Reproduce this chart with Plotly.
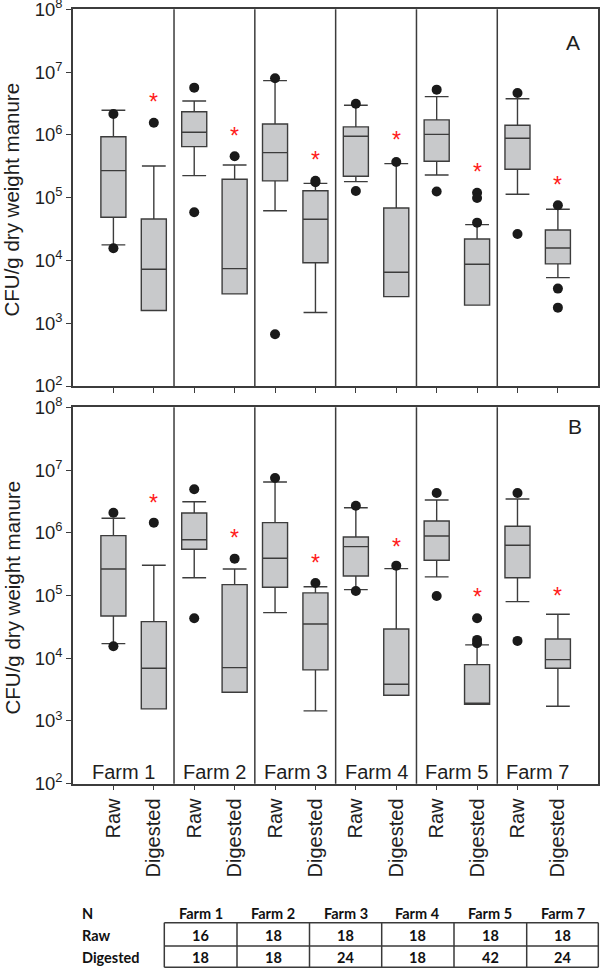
import math
import plotly.graph_objects as go

# ---------------- data ----------------
farms = ["Farm 1", "Farm 2", "Farm 3", "Farm 4", "Farm 5", "Farm 7"]
tick_labels = ["Raw", "Digested"] * 6
positions = list(range(1, 13))
farm_centers = [1.25, 3.5, 5.5, 7.5, 9.5, 11.5]
separators = [2.5, 4.5, 6.5, 8.5, 10.5]
digested_pos = [2, 4, 6, 8, 10, 12]
y_tickvals = [1e2, 1e3, 1e4, 1e5, 1e6, 1e7, 1e8]
y_ticktext = ["10<sup>2</sup>", "10<sup>3</sup>", "10<sup>4</sup>", "10<sup>5</sup>",
              "10<sup>6</sup>", "10<sup>7</sup>", "10<sup>8</sup>"]

# Panel A (order: F1 Raw, F1 Dig, F2 Raw, F2 Dig, ...)
a_q1 = [4.88e4, 1.59e3, 6.49e5, 2.93e3, 1.85e5, 9.2e3, 2.19e5, 2.65e3, 3.80e5, 1.94e3, 2.83e5, 8.8e3]
a_med = [2.69e5, 7.24e3, 1.10e6, 7.40e3, 5.21e5, 4.53e4, 9.5e5, 6.49e3, 1.02e6, 8.7e3, 8.83e5, 1.58e4]
a_q3 = [9.35e5, 4.58e4, 2.34e6, 1.96e5, 1.49e6, 1.29e5, 1.34e6, 6.86e4, 1.73e6, 2.2e4, 1.42e6, 3.06e4]
a_low = [1.77e4, 1.59e3, 2.24e5, 2.93e3, 6.2e4, 1.48e3, 1.8e5, 2.65e3, 2.3e5, 1.94e3, 1.13e5, 5.32e3]
a_high = [2.47e6, 3.2e5, 3.47e6, 3.32e5, 7.3e6, 1.69e5, 2.96e6, 3.48e5, 4.06e6, 3.72e4, 3.77e6, 6.53e4]
a_out = [[2.15e6, 1.56e4], [1.56e6], [5.65e6, 5.85e4], [4.56e5], [7.96e6, 668], [1.86e5, 1.76e5],
         [3.14e6, 1.28e5], [3.7e5], [5.25e6, 1.25e5], [1.2e5, 9.9e4, 4.0e4], [4.65e6, 2.64e4],
         [7.57e4, 3.56e3, 1.77e3]]
a_star = [4.2e6, 1.2e6, 4.97e5, 1.02e6, 3.24e5, 1.99e5]

# Panel B
b_q1 = [4.72e4, 1.56e3, 5.46e5, 2.87e3, 1.35e5, 6.52e3, 2.05e5, 2.57e3, 3.65e5, 1.85e3, 1.92e5, 6.93e3]
b_med = [2.65e5, 6.93e3, 7.76e5, 7.08e3, 3.93e5, 3.52e4, 6.01e5, 3.85e3, 8.89e5, 1.85e3, 6.32e5, 9.5e3]
b_q3 = [8.99e5, 3.83e4, 2.07e6, 1.49e5, 1.45e6, 1.10e5, 8.57e5, 2.93e4, 1.54e6, 7.91e3, 1.27e6, 2.03e4]
b_low = [1.71e4, 1.56e3, 1.92e5, 2.87e3, 5.33e4, 1.45e3, 1.24e5, 2.57e3, 1.98e5, 1.85e3, 7.98e4, 1.72e3]
b_high = [1.70e6, 3.03e5, 3.13e6, 2.65e5, 6.46e6, 1.38e5, 2.51e6, 2.68e5, 3.33e6, 1.63e4, 3.46e6, 5.02e4]
b_out = [[2.09e6, 1.55e4], [1.45e6], [4.93e6, 4.34e4], [3.87e5], [7.46e6], [1.58e5],
         [2.70e6, 1.18e5], [2.99e5], [4.31e6, 9.84e4], [4.34e4, 1.96e4, 1.73e4], [4.31e6, 1.89e4], []]
b_star = [3.76e6, 1.02e6, 4.16e5, 7.48e5, 1.18e5, 1.23e5]

# Sample-size table
table_rows = ["Raw", "Digested"]
n_raw = [16, 18, 18, 18, 18, 18]
n_digested = [18, 18, 24, 18, 42, 24]

# ---------------- styling ----------------
W, H = 600, 970
FONT = "Liberation Sans, Arial, sans-serif"
TFONT = "Lato, Open Sans, sans-serif"
LINE = "#3c3c3c"
BOXFILL = "#c8c9cb"
TXT = "#1e1e1e"


def px(x):
    return x / W


def py(y):
    return 1 - y / H


X_DOM = [px(73.0), px(598.3)]
A_DOM = [py(386.0), py(9.3)]
B_DOM = [py(783.7), py(407.3)]

fig = go.Figure()
annotations = []

panels = [
    ("x", "y", a_q1, a_med, a_q3, a_low, a_high, a_out, a_star),
    ("x2", "y2", b_q1, b_med, b_q3, b_low, b_high, b_out, b_star),
]
for xa, ya, q1, med, q3, lo, hi, outs, stars in panels:
    fig.add_trace(go.Box(
        x=positions, q1=q1, median=med, q3=q3, lowerfence=lo, upperfence=hi,
        xaxis=xa, yaxis=ya, width=0.62, whiskerwidth=0.95, boxpoints=False,
        fillcolor=BOXFILL, line=dict(color=LINE, width=1.4), showlegend=False,
        hoverinfo="skip",
    ))
    ox, oy = [], []
    for p, vals in zip(positions, outs):
        for v in vals:
            ox.append(p)
            oy.append(v)
    fig.add_trace(go.Scatter(
        x=ox, y=oy, mode="markers", xaxis=xa, yaxis=ya, showlegend=False,
        marker=dict(size=10, color="#1a1a1a", line=dict(width=0)), hoverinfo="skip",
    ))
    for p, s in zip(digested_pos, stars):
        annotations.append(dict(xref=xa, yref=ya, x=p, y=math.log10(s), text="*",
                                showarrow=False, xanchor="center", yanchor="middle",
                                yshift=-6, font=dict(size=23, color="#ff1a1a", family=FONT)))

axis_common = dict(showline=True, mirror=True, linecolor=LINE, linewidth=1.5,
                   showgrid=False, zeroline=False, ticks="outside", tickcolor=LINE,
                   automargin=False, ticklabeloverflow="allow")

fig.update_layout(
    width=W, height=H, margin=dict(l=0, r=0, t=0, b=0),
    paper_bgcolor="white", plot_bgcolor="white",
    font=dict(family=FONT, color=TXT),
    xaxis=dict(domain=X_DOM, anchor="y", range=[0, 13], tickvals=positions,
               showticklabels=False, ticklen=5, tickwidth=1.3, **axis_common),
    yaxis=dict(domain=A_DOM, anchor="x", type="log", range=[2, 8],
               tickvals=y_tickvals, ticktext=y_ticktext, ticklen=5, tickwidth=1.3,
               tickfont=dict(size=18.5, color=TXT), **axis_common),
    xaxis2=dict(domain=X_DOM, anchor="y2", range=[0, 13], tickvals=positions,
                ticktext=tick_labels, tickangle=-90, ticklen=5, tickwidth=1.3,
                tickfont=dict(size=20, color=TXT), **axis_common),
    yaxis2=dict(domain=B_DOM, anchor="x2", type="log", range=[2, 8],
                tickvals=y_tickvals, ticktext=y_ticktext, ticklen=5, tickwidth=1.3,
                tickfont=dict(size=18.5, color=TXT), **axis_common),
)

shapes = []
for xr, yr in [("x", "y domain"), ("x2", "y2 domain")]:
    for s in separators:
        shapes.append(dict(type="line", xref=xr, yref=yr, x0=s, x1=s, y0=0, y1=1,
                           line=dict(color=LINE, width=1.5)))

# farm labels inside bottom panel
for c, f in zip(farm_centers, farms):
    annotations.append(dict(xref="x2", yref="y2 domain", x=c, y=0.031, text=f,
                            showarrow=False, xanchor="center", yanchor="middle",
                            font=dict(size=20, color=TXT)))
# panel letters
annotations.append(dict(xref="paper", yref="paper", x=px(582), y=py(28.5), text="A",
                        showarrow=False, font=dict(size=21, color=TXT)))
annotations.append(dict(xref="paper", yref="paper", x=px(583.5), y=py(426.5), text="B",
                        showarrow=False, font=dict(size=21, color=TXT)))
# y titles
for yc in [200, 598]:
    annotations.append(dict(xref="paper", yref="paper", x=px(11.5), y=py(yc),
                            xanchor="center", yanchor="middle",
                            text="CFU/g dry weight manure", textangle=-90, showarrow=False,
                            font=dict(size=20.5, color=TXT)))

# table
col_edges = [164.3, 237.0, 309.5, 381.7, 454.0, 526.7, 598.3]
row_lines = [922.7, 946.0, 967.3]
for xe in col_edges:
    shapes.append(dict(type="line", xref="paper", yref="paper", x0=px(xe), x1=px(xe),
                       y0=py(row_lines[0]), y1=py(row_lines[-1]),
                       line=dict(color="#3a3a3a", width=1.5)))
for ye in row_lines:
    shapes.append(dict(type="line", xref="paper", yref="paper", x0=px(col_edges[0]),
                       x1=px(col_edges[-1]), y0=py(ye), y1=py(ye),
                       line=dict(color="#3a3a3a", width=1.5)))
col_centers = [(col_edges[i] + col_edges[i + 1]) / 2 for i in range(6)]
header_y, raw_y, dig_y = 913.3, 935.5, 957.5
tfont = dict(family=TFONT, size=14.5, color="#111111")
annotations.append(dict(xref="paper", yref="paper", x=px(80), y=py(header_y), text="<b>N</b>",
                        showarrow=False, xanchor="left", yanchor="middle", font=tfont))
for lbl, yy in zip(table_rows, [raw_y, dig_y]):
    annotations.append(dict(xref="paper", yref="paper", x=px(80), y=py(yy), text="<b>%s</b>" % lbl,
                            showarrow=False, xanchor="left", yanchor="middle", font=tfont))
for cc, f, nr, nd in zip(col_centers, farms, n_raw, n_digested):
    annotations.append(dict(xref="paper", yref="paper", x=px(cc), y=py(header_y),
                            xanchor="center", text="<b>%s</b>" % f, showarrow=False,
                            yanchor="middle", font=tfont))
    annotations.append(dict(xref="paper", yref="paper", x=px(cc), y=py(raw_y),
                            xanchor="center", text="<b>%d</b>" % nr, showarrow=False,
                            yanchor="middle", font=tfont))
    annotations.append(dict(xref="paper", yref="paper", x=px(cc), y=py(dig_y),
                            xanchor="center", text="<b>%d</b>" % nd, showarrow=False,
                            yanchor="middle", font=tfont))

fig.update_layout(shapes=shapes, annotations=annotations)
fig.write_html("out.html", config={"displayModeBar": False},
               post_script="document.body.style.margin='0';document.body.style.overflow='hidden';")
